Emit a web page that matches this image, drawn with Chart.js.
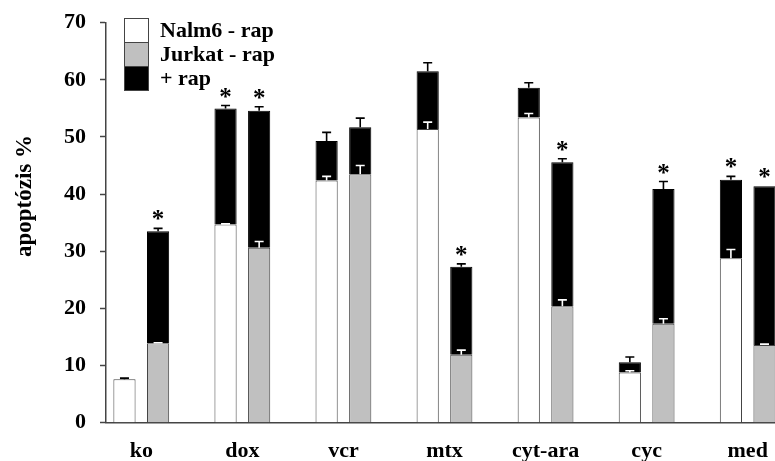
<!DOCTYPE html>
<html>
<head>
<meta charset="utf-8">
<script src="https://cdn.jsdelivr.net/npm/chart.js@4"></script>
<style>
  html, body { margin: 0; padding: 0; background: #fff; }
  canvas { display: block; }
</style>
</head>
<body>
<canvas id="apoptosisChart" width="775" height="461"></canvas>
<script>
const categories = ['ko', 'dox', 'vcr', 'mtx', 'cyt-ara', 'cyc', 'med'];

// Nalm6: apoptosis without rapamycin, and total with rapamycin (%)
const nalmBase = [7.6, 34.7, 42.4, 51.4, 53.4, 8.8, 28.8];
const nalmBaseErr = [0.2, 0.1, 0.7, 1.2, 0.7, 0.3, 1.5];
const nalmTotal = [7.6, 55.0, 49.3, 61.5, 58.6, 10.6, 42.5];
const nalmTotalErr = [0, 0.5, 1.5, 1.5, 0.9, 0.9, 0.6];

// Jurkat
const jurkBase = [13.9, 30.6, 43.5, 11.9, 20.4, 17.3, 13.6];
const jurkBaseErr = [0.1, 1.1, 1.5, 0.8, 1.1, 0.9, 0.15];
const jurkTotal = [33.5, 54.6, 51.7, 27.3, 45.6, 40.9, 41.4];
const jurkTotalErr = [0.5, 0.7, 1.6, 0.5, 0.6, 1.3, 0];

// significance stars above the +rap bars
const nalmSignificant = [false, true, false, false, false, false, true];
const jurkSignificant = [true, true, false, true, true, true, true];

const yTicks = [0, 10, 20, 30, 40, 50, 60, 70];
const legendLabels = ['Nalm6 - rap', 'Jurkat - rap', '+ rap'];
const yTitle = 'apoptózis %';

const WHITE = '#ffffff';
const GRAY = '#c0c0c0';
const BLACK = '#000000';
const EDGE = '#444444';
const SERIF = '"Liberation Serif", "DejaVu Serif", serif';

function points(values) {
    return values.map((v, i) => ({ x: i, y: v }));
}

function diff(total, base) {
    return total.map((v, i) => Math.max(v - base[i], 0));
}

// whisker on a base bar sits inside the black part when +rap is taller
function baseWhiskerColors(total, base, err) {
    return base.map((v, i) => (total[i] - v > err[i] ? WHITE : BLACK));
}

const errorBarPlugin = {
    id: 'errorBars',
    afterDatasetsDraw(chart) {
        const ctx = chart.ctx;
        const yScale = chart.scales.y;
        ctx.save();
        ctx.lineWidth = 1.6;
        chart.data.datasets.forEach((ds, i) => {
            const meta = chart.getDatasetMeta(i);
            meta.data.forEach((bar, j) => {
                const err = ds.errors[j];
                if (!err) return;
                const yTop = yScale.getPixelForValue(ds.tops[j]);
                const yErr = yScale.getPixelForValue(ds.tops[j] + err);
                ctx.strokeStyle = ds.whisker[j];
                ctx.beginPath();
                ctx.moveTo(bar.x, yTop);
                ctx.lineTo(bar.x, yErr);
                ctx.moveTo(bar.x - 4.5, yErr);
                ctx.lineTo(bar.x + 4.5, yErr);
                ctx.stroke();
            });
        });

        // stars
        ctx.fillStyle = BLACK;
        ctx.font = 'bold 25px ' + SERIF;
        ctx.textAlign = 'center';
        ctx.textBaseline = 'alphabetic';
        const m = ctx.measureText('*');
        const shift = (m.actualBoundingBoxAscent - m.actualBoundingBoxDescent) / 2;
        chart.data.datasets.forEach((ds, i) => {
            if (!ds.stars) return;
            const meta = chart.getDatasetMeta(i);
            meta.data.forEach((bar, j) => {
                if (!ds.stars[j]) return;
                const y = yScale.getPixelForValue(ds.tops[j] + ds.errors[j]) - 13;
                ctx.fillText('*', bar.x, y + shift);
            });
        });
        ctx.restore();
    },
    afterDraw(chart) {
        const ctx = chart.ctx;
        ctx.save();

        // legend: three touching boxes
        const fills = [WHITE, GRAY, BLACK];
        ctx.font = 'bold 22px ' + SERIF;
        ctx.textAlign = 'left';
        ctx.textBaseline = 'alphabetic';
        legendLabels.forEach((label, k) => {
            const top = 18.5 + k * 24;
            ctx.fillStyle = fills[k];
            ctx.fillRect(124.5, top, 24, 24);
            ctx.strokeStyle = EDGE;
            ctx.lineWidth = 1;
            ctx.strokeRect(124.5, top, 24, 24);
            ctx.fillStyle = BLACK;
            ctx.fillText(label, 160, top + 18.5);
        });

        // y axis title
        ctx.translate(31, 196);
        ctx.rotate(-Math.PI / 2);
        ctx.font = 'bold 23px ' + SERIF;
        ctx.textAlign = 'center';
        ctx.fillText(yTitle, 0, 0);
        ctx.restore();
    }
};

const ctx = document.getElementById('apoptosisChart').getContext('2d');

new Chart(ctx, {
    type: 'bar',
    data: {
        datasets: [
            {
                label: 'Nalm6 - rap',
                stack: 'nalm',
                data: points(nalmBase),
                backgroundColor: WHITE,
                borderColor: EDGE,
                tops: nalmBase,
                errors: nalmBaseErr,
                whisker: baseWhiskerColors(nalmTotal, nalmBase, nalmBaseErr)
            },
            {
                label: 'Nalm6 + rap',
                stack: 'nalm',
                data: points(diff(nalmTotal, nalmBase)),
                backgroundColor: BLACK,
                borderColor: BLACK,
                tops: nalmTotal,
                errors: nalmTotalErr,
                whisker: nalmTotal.map(() => BLACK),
                stars: nalmSignificant
            },
            {
                label: 'Jurkat - rap',
                stack: 'jurk',
                data: points(jurkBase),
                backgroundColor: GRAY,
                borderColor: EDGE,
                tops: jurkBase,
                errors: jurkBaseErr,
                whisker: baseWhiskerColors(jurkTotal, jurkBase, jurkBaseErr)
            },
            {
                label: 'Jurkat + rap',
                stack: 'jurk',
                data: points(diff(jurkTotal, jurkBase)),
                backgroundColor: BLACK,
                borderColor: BLACK,
                tops: jurkTotal,
                errors: jurkTotalErr,
                whisker: jurkTotal.map(() => BLACK),
                stars: jurkSignificant
            }
        ]
    },
    options: {
        responsive: false,
        animation: false,
        devicePixelRatio: 1,
        categoryPercentage: 0.665,
        barPercentage: 0.66,
        layout: { padding: { top: 22.7, right: 0, bottom: 0, left: 0 } },
        plugins: {
            legend: { display: false },
            tooltip: { enabled: false }
        },
        datasets: {
            bar: { borderWidth: 1 }
        },
        scales: {
            x: {
                type: 'linear',
                offset: false,
                min: -0.349,
                max: 6.27,
                grid: { display: false, drawTicks: false },
                border: { display: true, color: EDGE, width: 1.5 },
                afterBuildTicks: (scale) => {
                    scale.ticks = categories.map((_, i) => ({ value: i }));
                },
                afterFit: (scale) => {
                    scale.height = 38.3;
                    scale.paddingLeft = 0;
                    scale.paddingRight = 0;
                },
                ticks: {
                    autoSkip: false,
                    maxRotation: 0,
                    padding: 15,
                    color: BLACK,
                    font: { family: SERIF, size: 22, weight: 'bold' },
                    callback: (value) => categories[value]
                }
            },
            y: {
                stacked: true,
                min: yTicks[0],
                max: yTicks[yTicks.length - 1],
                afterBuildTicks: (scale) => {
                    scale.ticks = yTicks.map(v => ({ value: v }));
                },
                afterFit: (scale) => {
                    scale.width = 106;
                    scale.paddingTop = 0;
                    scale.paddingBottom = 0;
                },
                grid: {
                    drawOnChartArea: false,
                    drawTicks: true,
                    tickLength: 6,
                    tickWidth: 1.5,
                    tickColor: EDGE
                },
                border: { display: true, color: EDGE, width: 1.5 },
                ticks: {
                    padding: 14,
                    color: BLACK,
                    font: { family: SERIF, size: 22, weight: 'bold' }
                }
            }
        }
    },
    plugins: [errorBarPlugin]
});
</script>
</body>
</html>
